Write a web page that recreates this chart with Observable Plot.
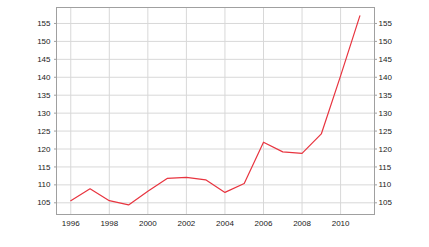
<!DOCTYPE html>
<html>
<head>
<meta charset="utf-8">
<script src="https://cdn.jsdelivr.net/npm/d3@7"></script>
<script src="https://cdn.jsdelivr.net/npm/@observablehq/plot@0.6"></script>
<style>
  html, body { margin: 0; padding: 0; background: #fff; }
  #chart svg { display: block; }
</style>
</head>
<body>
<div id="chart"></div>
<script>
const years = [1996, 1997, 1998, 1999, 2000, 2001, 2002, 2003, 2004, 2005, 2006, 2007, 2008, 2009, 2010, 2011];
const values = [105.6, 108.9, 105.6, 104.4, 108.2, 111.8, 112.1, 111.4, 107.9, 110.4, 121.9, 119.2, 118.8, 124.2, 140.4, 157.1];
const xTicks = [1996, 1998, 2000, 2002, 2004, 2006, 2008, 2010];
const yTicks = [105, 110, 115, 120, 125, 130, 135, 140, 145, 150, 155];

const data = years.map((y, i) => ({year: y, value: values[i]}));

const chart = Plot.plot({
  width: 429,
  height: 247,
  marginLeft: 56,
  marginRight: 55,
  marginTop: 7,
  marginBottom: 33,
  style: {fontFamily: "'Liberation Sans', Arial, sans-serif", fontSize: "8px", color: "#222", background: "#fff"},
  x: {type: "linear", domain: [1995.26, 2011.76]},
  y: {domain: [101.74, 159.45]},
  marks: [
    Plot.gridX(xTicks, {stroke: "#d8d8d8", strokeOpacity: 1}),
    Plot.gridY(yTicks, {stroke: "#d8d8d8", strokeOpacity: 1}),
    Plot.frame({stroke: "#a0a0a0"}),
    Plot.axisX(xTicks, {tickSize: 0, tickPadding: 6, tickFormat: d => String(d), label: null, fill: "#222"}),
    Plot.axisY(yTicks, {anchor: "left", tickSize: 2, tickPadding: 4, label: null, stroke: "#a0a0a0", fill: "#222"}),
    Plot.axisY(yTicks, {anchor: "right", tickSize: 2, tickPadding: 2, label: null, stroke: "#a0a0a0", fill: "#222"}),
    Plot.line(data, {x: "year", y: "value", stroke: "#e8343f", strokeWidth: 1.2})
  ]
});
document.getElementById("chart").appendChild(chart);
</script>
</body>
</html>
